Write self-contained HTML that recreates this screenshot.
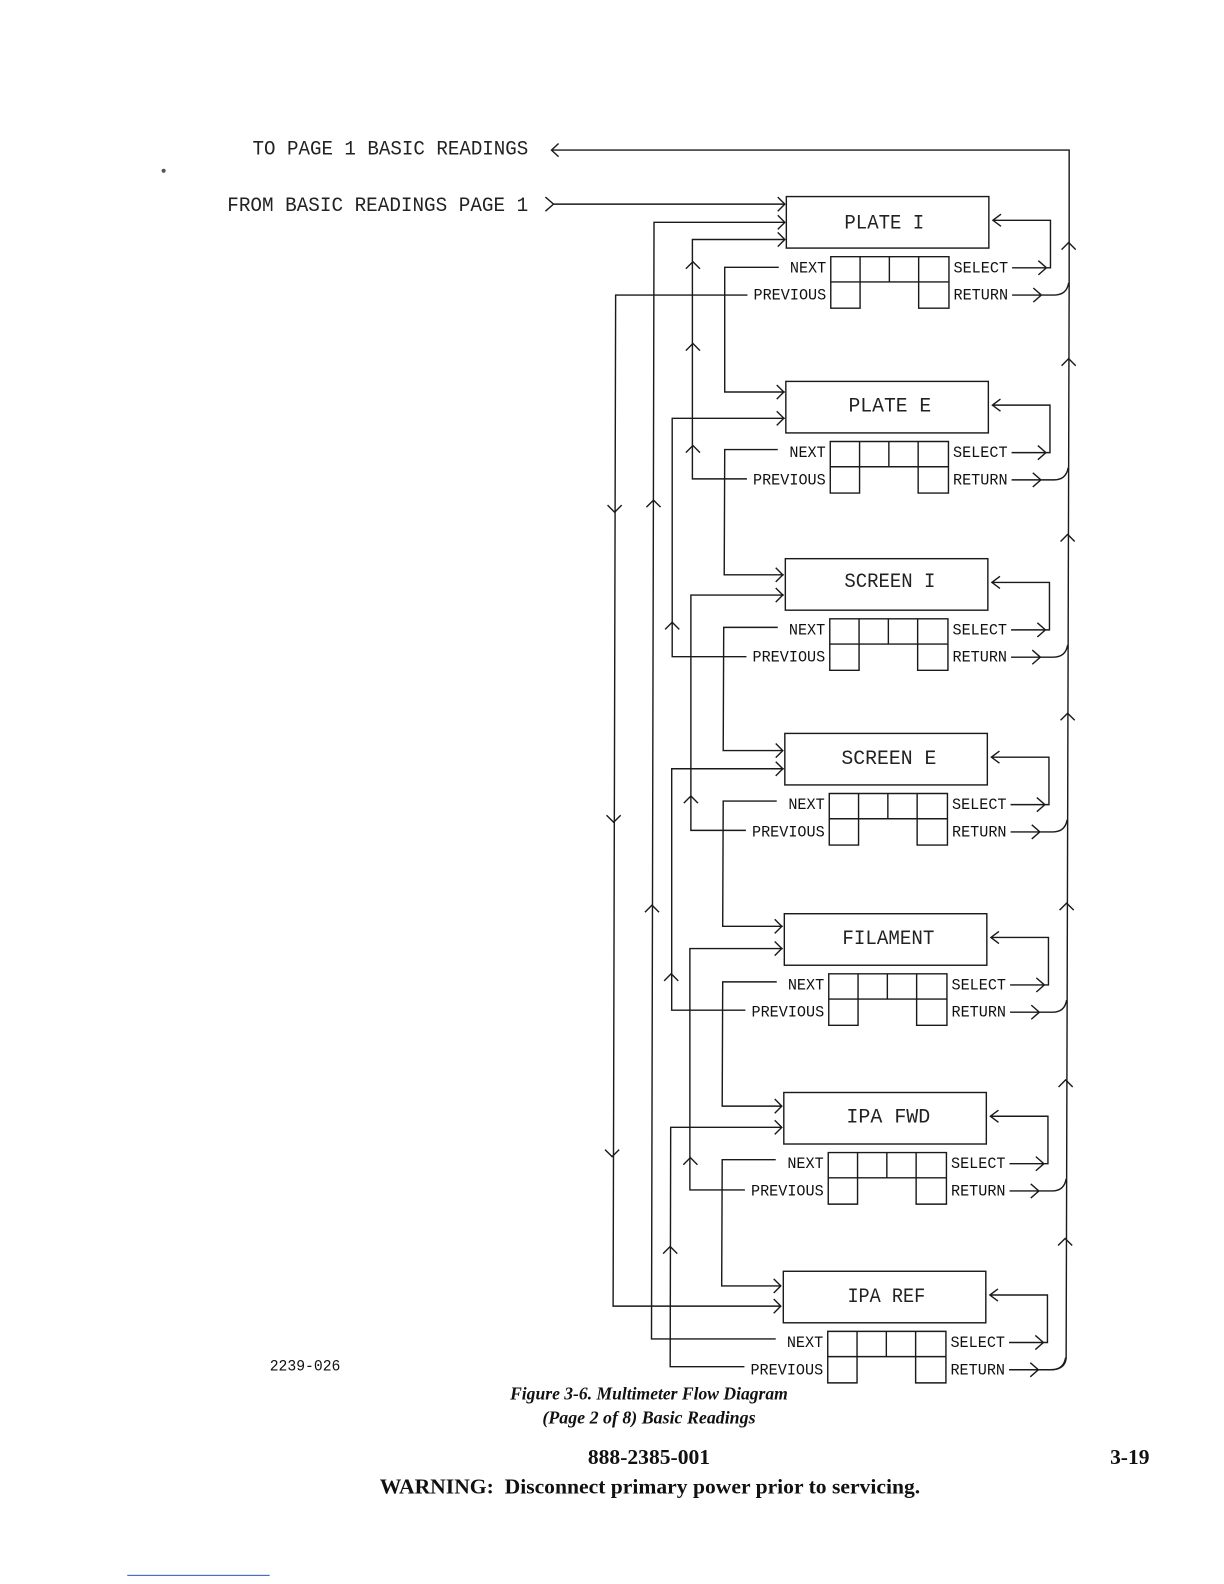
<!DOCTYPE html>
<html><head><meta charset="utf-8"><title>Figure 3-6</title>
<style>
html,body{margin:0;padding:0;background:#fff;}
svg{display:block;position:absolute;left:0;top:0;}
.l{fill:none;stroke:#1a1a1a;stroke-width:1.4;}
.t{font-family:"Liberation Mono",monospace;font-size:20px;fill:#222;}
.s{font-family:"Liberation Mono",monospace;font-size:15.5px;fill:#111;}
.f{font-family:"Liberation Serif",serif;font-weight:bold;fill:#111;}
</style></head><body>
<svg width="1224" height="1584" viewBox="0 0 1211.8 1568" xmlns="http://www.w3.org/2000/svg">
<defs>
<g id="mod">
<rect class="l" x="778.5" y="194.5" width="200.5" height="51"/>
<path class="l" d="M822.5,254H939.5V305H909.5V279H851.5V305H822.5ZM822.5,279H851.5M909.5,279H939.5M851.5,254V279M880.5,254V279M909.5,254V279"/>
<path class="l" d="M1002,265H1040V218H983M991,212L983,218L991,224M1028,258L1036,265L1028,272"/>
<path class="l" d="M1002,292H1044Q1056,292 1058,280M1023,285L1031,292L1023,299"/>
</g>
<path id="ar" class="l" d="M-7,-7L0,0L-7,7"/>
<path id="au" class="l" d="M-7,7L0,0L7,7"/>
<path id="ad" class="l" d="M-7,-7L0,0L7,-7"/>
</defs>

<!-- modules -->
<use href="#mod"/>
<use href="#mod" transform="translate(-0.5,183)"/>
<use href="#mod" transform="translate(-1,358.5)"/>
<use href="#mod" transform="translate(-1.5,531.5)"/>
<use href="#mod" transform="translate(-2,710)"/>
<use href="#mod" transform="translate(-2.5,887)"/>
<use href="#mod" transform="translate(-3,1064)"/>

<!-- top lines and bus -->
<path class="l" d="M546,148.5H1058.5V280L1055.5,1345Q1054,1356 1040,1356"/>
<path class="l" d="M553,142L546,148.5L553,155"/>
<path class="l" d="M540,195L548,202L540,209M548,202H777"/>

<!-- NEXT / PREVIOUS routes -->
<path class="l" d="M771,264.5H717.5V388H777"/>
<path class="l" d="M740,292H609.5L607,1293H773"/>
<path class="l" d="M770,445H717.5L717,569H776"/>
<path class="l" d="M739.5,474H685.5V237H777"/>
<path class="l" d="M770,621H716.5L716,743H775"/>
<path class="l" d="M739,650H665.5V414H777"/>
<path class="l" d="M769,793H716L715.5,917H775"/>
<path class="l" d="M738.5,822H684V589H776"/>
<path class="l" d="M769,972H715.5L715,1095H774"/>
<path class="l" d="M738,1000H665V761H776"/>
<path class="l" d="M768,1148H715L714.5,1273H773"/>
<path class="l" d="M737.5,1178H683V939H775"/>
<path class="l" d="M768,1325.5H645L647.5,220H777"/>
<path class="l" d="M737,1353H663.5L664,1116H774"/>

<!-- arrowheads -->
<use href="#ar" x="777" y="202"/><use href="#ar" x="777" y="220"/><use href="#ar" x="777" y="237"/>
<use href="#ar" x="776" y="388"/><use href="#ar" x="776" y="414"/>
<use href="#ar" x="775" y="569"/><use href="#ar" x="775" y="589"/>
<use href="#ar" x="775" y="743"/><use href="#ar" x="775" y="761"/>
<use href="#ar" x="774" y="917"/><use href="#ar" x="774" y="939"/>
<use href="#ar" x="774" y="1095"/><use href="#ar" x="774" y="1116"/>
<use href="#ar" x="773" y="1273"/><use href="#ar" x="773" y="1293"/>

<use href="#au" x="686" y="259"/><use href="#au" x="686" y="340"/><use href="#au" x="686" y="441"/>
<use href="#au" x="647" y="495"/><use href="#au" x="645.5" y="896"/>
<use href="#au" x="665.5" y="616"/><use href="#au" x="684" y="788"/>
<use href="#au" x="664.5" y="964"/><use href="#au" x="683.5" y="1146"/>
<use href="#au" x="663.5" y="1234"/>
<use href="#ad" x="608.5" y="507"/><use href="#ad" x="607.5" y="814"/><use href="#ad" x="606" y="1145"/>

<use href="#au" x="1058" y="240"/><use href="#au" x="1058" y="355"/><use href="#au" x="1057" y="529"/>
<use href="#au" x="1057" y="706"/><use href="#au" x="1056" y="894"/><use href="#au" x="1055" y="1069"/>
<use href="#au" x="1054.5" y="1226"/>

<!-- header texts -->
<text class="t" x="250" y="153" textLength="273" lengthAdjust="spacingAndGlyphs">TO PAGE 1 BASIC READINGS</text>
<text class="t" x="225" y="209" textLength="298" lengthAdjust="spacingAndGlyphs">FROM BASIC READINGS PAGE 1</text>
<text class="s" x="267" y="1356.5" textLength="70" lengthAdjust="spacingAndGlyphs">2239-026</text>
<circle cx="162" cy="169" r="2" fill="#555"/>

<!-- titles -->
<text class="t" x="836" y="226" textLength="79" lengthAdjust="spacingAndGlyphs">PLATE I</text>
<text class="t" x="840" y="407.5" textLength="82" lengthAdjust="spacingAndGlyphs">PLATE E</text>
<text class="t" x="836" y="581" textLength="90" lengthAdjust="spacingAndGlyphs">SCREEN I</text>
<text class="t" x="833" y="756.5" textLength="94" lengthAdjust="spacingAndGlyphs">SCREEN E</text>
<text class="t" x="834" y="934.5" textLength="91" lengthAdjust="spacingAndGlyphs">FILAMENT</text>
<text class="t" x="838" y="1111" textLength="83" lengthAdjust="spacingAndGlyphs">IPA FWD</text>
<text class="t" x="839" y="1289" textLength="77" lengthAdjust="spacingAndGlyphs">IPA REF</text>

<!-- module labels -->
<g>
<text class="s" x="782" y="269.5" textLength="36" lengthAdjust="spacingAndGlyphs">NEXT</text>
<text class="s" x="746" y="296.5" textLength="72" lengthAdjust="spacingAndGlyphs">PREVIOUS</text>
<text class="s" x="944" y="269.5" textLength="54" lengthAdjust="spacingAndGlyphs">SELECT</text>
<text class="s" x="944" y="296.5" textLength="54" lengthAdjust="spacingAndGlyphs">RETURN</text>
</g>
<g transform="translate(-0.5,183)">
<text class="s" x="782" y="269.5" textLength="36" lengthAdjust="spacingAndGlyphs">NEXT</text>
<text class="s" x="746" y="296.5" textLength="72" lengthAdjust="spacingAndGlyphs">PREVIOUS</text>
<text class="s" x="944" y="269.5" textLength="54" lengthAdjust="spacingAndGlyphs">SELECT</text>
<text class="s" x="944" y="296.5" textLength="54" lengthAdjust="spacingAndGlyphs">RETURN</text>
</g>
<g transform="translate(-1,358.5)">
<text class="s" x="782" y="269.5" textLength="36" lengthAdjust="spacingAndGlyphs">NEXT</text>
<text class="s" x="746" y="296.5" textLength="72" lengthAdjust="spacingAndGlyphs">PREVIOUS</text>
<text class="s" x="944" y="269.5" textLength="54" lengthAdjust="spacingAndGlyphs">SELECT</text>
<text class="s" x="944" y="296.5" textLength="54" lengthAdjust="spacingAndGlyphs">RETURN</text>
</g>
<g transform="translate(-1.5,531.5)">
<text class="s" x="782" y="269.5" textLength="36" lengthAdjust="spacingAndGlyphs">NEXT</text>
<text class="s" x="746" y="296.5" textLength="72" lengthAdjust="spacingAndGlyphs">PREVIOUS</text>
<text class="s" x="944" y="269.5" textLength="54" lengthAdjust="spacingAndGlyphs">SELECT</text>
<text class="s" x="944" y="296.5" textLength="54" lengthAdjust="spacingAndGlyphs">RETURN</text>
</g>
<g transform="translate(-2,710)">
<text class="s" x="782" y="269.5" textLength="36" lengthAdjust="spacingAndGlyphs">NEXT</text>
<text class="s" x="746" y="296.5" textLength="72" lengthAdjust="spacingAndGlyphs">PREVIOUS</text>
<text class="s" x="944" y="269.5" textLength="54" lengthAdjust="spacingAndGlyphs">SELECT</text>
<text class="s" x="944" y="296.5" textLength="54" lengthAdjust="spacingAndGlyphs">RETURN</text>
</g>
<g transform="translate(-2.5,887)">
<text class="s" x="782" y="269.5" textLength="36" lengthAdjust="spacingAndGlyphs">NEXT</text>
<text class="s" x="746" y="296.5" textLength="72" lengthAdjust="spacingAndGlyphs">PREVIOUS</text>
<text class="s" x="944" y="269.5" textLength="54" lengthAdjust="spacingAndGlyphs">SELECT</text>
<text class="s" x="944" y="296.5" textLength="54" lengthAdjust="spacingAndGlyphs">RETURN</text>
</g>
<g transform="translate(-3,1064)">
<text class="s" x="782" y="269.5" textLength="36" lengthAdjust="spacingAndGlyphs">NEXT</text>
<text class="s" x="746" y="296.5" textLength="72" lengthAdjust="spacingAndGlyphs">PREVIOUS</text>
<text class="s" x="944" y="269.5" textLength="54" lengthAdjust="spacingAndGlyphs">SELECT</text>
<text class="s" x="944" y="296.5" textLength="54" lengthAdjust="spacingAndGlyphs">RETURN</text>
</g>

<!-- captions -->
<text class="f" x="505" y="1385.5" font-size="18" font-style="italic" textLength="275" lengthAdjust="spacingAndGlyphs">Figure 3-6. Multimeter Flow Diagram</text>
<text class="f" x="537" y="1409" font-size="18" font-style="italic" textLength="211" lengthAdjust="spacingAndGlyphs">(Page 2 of 8) Basic Readings</text>
<text class="f" x="582" y="1449.5" font-size="21" textLength="121" lengthAdjust="spacingAndGlyphs">888-2385-001</text>
<text class="f" x="1099" y="1449.5" font-size="21" textLength="39" lengthAdjust="spacingAndGlyphs">3-19</text>
<text class="f" x="376" y="1478.5" font-size="21" textLength="535" lengthAdjust="spacingAndGlyphs">WARNING:&#160; Disconnect primary power prior to servicing.</text>
<rect x="126" y="1559" width="141" height="1.2" fill="#4a6fc0"/>
</svg>
</body></html>
